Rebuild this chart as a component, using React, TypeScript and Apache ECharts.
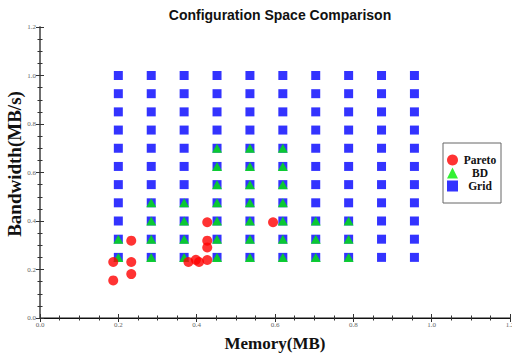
import React, { useEffect, useRef } from "react";
import * as echarts from "echarts";

const gridXs = [0.2, 0.284, 0.368, 0.452, 0.536, 0.62, 0.704, 0.788, 0.872, 0.956];
const gridYs = [0.25, 0.325, 0.4, 0.475, 0.55, 0.625, 0.7, 0.775, 0.85, 0.925, 1.0];

// BD triangles: y values per grid column (same order as gridXs)
const bdYsByColumn: number[][] = [
  [0.25, 0.325],
  [0.25, 0.325, 0.4, 0.475],
  [0.25, 0.325, 0.4, 0.475],
  [0.25, 0.325, 0.4, 0.475, 0.55, 0.625, 0.7],
  [0.25, 0.325, 0.4, 0.475, 0.55, 0.625, 0.7],
  [0.25, 0.325, 0.4, 0.475, 0.55, 0.625, 0.7],
  [0.25, 0.325, 0.4],
  [0.25, 0.325, 0.4],
  [],
  [],
];

const paretoX = [0.187, 0.187, 0.233, 0.233, 0.233, 0.379, 0.398, 0.406, 0.427, 0.427, 0.427, 0.427, 0.595];
const paretoY = [0.231, 0.155, 0.319, 0.231, 0.181, 0.231, 0.24, 0.231, 0.239, 0.291, 0.319, 0.395, 0.395];

const axisTicks = [0, 0.2, 0.4, 0.6, 0.8, 1.0, 1.2];

const SERIF = "'Liberation Serif', 'Times New Roman', serif";

export default function App() {
  const ref = useRef<HTMLDivElement>(null);
  useEffect(() => {
    document.body.style.margin = "0";
    if (!ref.current) return;
    const chart = echarts.init(ref.current, null, { renderer: "svg" });

    const gridData: number[][] = [];
    gridXs.forEach((x) => gridYs.forEach((y) => gridData.push([x, y])));
    const bdData: number[][] = [];
    bdYsByColumn.forEach((ys, i) => ys.forEach((y) => bdData.push([gridXs[i], y])));
    const paretoData = paretoX.map((x, i) => [x, paretoY[i]]);

    const min = axisTicks[0];
    const max = axisTicks[axisTicks.length - 1];
    const interval = axisTicks[1] - axisTicks[0];
    const fmt = (v: number) => v.toFixed(1);

    const baseAxis = {
      type: "value" as const,
      min,
      max,
      interval,
      splitLine: { show: false },
      minorTick: { show: true, splitNumber: 4, length: 2.5, lineStyle: { color: "#333", width: 1 } },
      axisTick: { show: true, inside: true, length: 4, lineStyle: { color: "#333", width: 1 } },
    };

    chart.setOption({
      animation: false,
      title: {
        text: "Configuration Space Comparison",
        left: 275,
        textAlign: "center",
        top: 3,
        textStyle: { fontFamily: "'Liberation Sans', Arial, sans-serif", fontSize: 14, fontWeight: "bold", color: "#111" },
      },
      grid: { left: 40, right: 2, top: 27, bottom: 36, containLabel: false, outerBoundsMode: "none" },
      legend: {
        orient: "vertical",
        left: 443,
        top: 143,
        padding: [11, 4, 11, 4],
        itemGap: 1,
        itemWidth: 11,
        itemHeight: 11,
        borderColor: "#666",
        borderWidth: 1,
        backgroundColor: "#fff",
        data: ["Pareto", "BD", "Grid"],
        formatter: (name: string) => `{a|${name}}`,
        textStyle: {
          fontFamily: SERIF,
          fontSize: 11,
          fontWeight: "bold",
          color: "#111",
          lineHeight: 11,
          rich: { a: { width: 34, align: "center", fontFamily: SERIF, fontSize: 11.5, fontWeight: "bold", color: "#111", lineHeight: 11 } },
        },
      },
      xAxis: [
        {
          ...baseAxis,
          position: "bottom",
          name: "Memory(MB)",
          nameLocation: "middle",
          nameGap: 17,
          nameMoveOverlap: false,
          nameTextStyle: { fontFamily: SERIF, fontSize: 17, fontWeight: "bold", color: "#111" },
          axisLine: { show: true, lineStyle: { color: "#666", width: 1.5 } },
          axisLabel: { fontFamily: SERIF, fontSize: 7, color: "#666", margin: 3, formatter: fmt },
        },
        {
          ...baseAxis,
          position: "top",
          axisLine: { show: true, lineStyle: { color: "#111", width: 1 } },
          axisLabel: { show: false },
        },
      ],
      yAxis: [
        {
          ...baseAxis,
          position: "left",
          name: "Bandwidth(MB/s)",
          nameLocation: "middle",
          nameGap: 16,
          nameMoveOverlap: false,
          nameTextStyle: { fontFamily: SERIF, fontSize: 19, fontWeight: "bold", color: "#111", padding: [0, 0, 0, 17] },
          axisLine: { show: true, lineStyle: { color: "#666", width: 1.5 } },
          axisLabel: { fontFamily: SERIF, fontSize: 7, color: "#666", margin: 4, formatter: fmt },
        },
        {
          ...baseAxis,
          position: "right",
          axisLine: { show: true, lineStyle: { color: "#666", width: 1.5 } },
          axisLabel: { show: false },
        },
      ],
      series: [
        {
          name: "Grid",
          type: "scatter",
          symbol: "rect",
          symbolSize: 9,
          itemStyle: { color: "#0000ff" },
          data: gridData,
          z: 2,
        },
        {
          name: "BD",
          type: "scatter",
          symbol: "triangle",
          symbolSize: [10, 9],
          itemStyle: { color: "#00ee00" },
          data: bdData,
          z: 3,
        },
        {
          name: "Pareto",
          type: "scatter",
          symbol: "circle",
          symbolSize: 10,
          itemStyle: { color: "#ff0000" },
          data: paretoData,
          z: 4,
        },
      ],
    });
    return () => chart.dispose();
  }, []);
  return <div ref={ref} style={{ width: 512, height: 354 }} />;
}
